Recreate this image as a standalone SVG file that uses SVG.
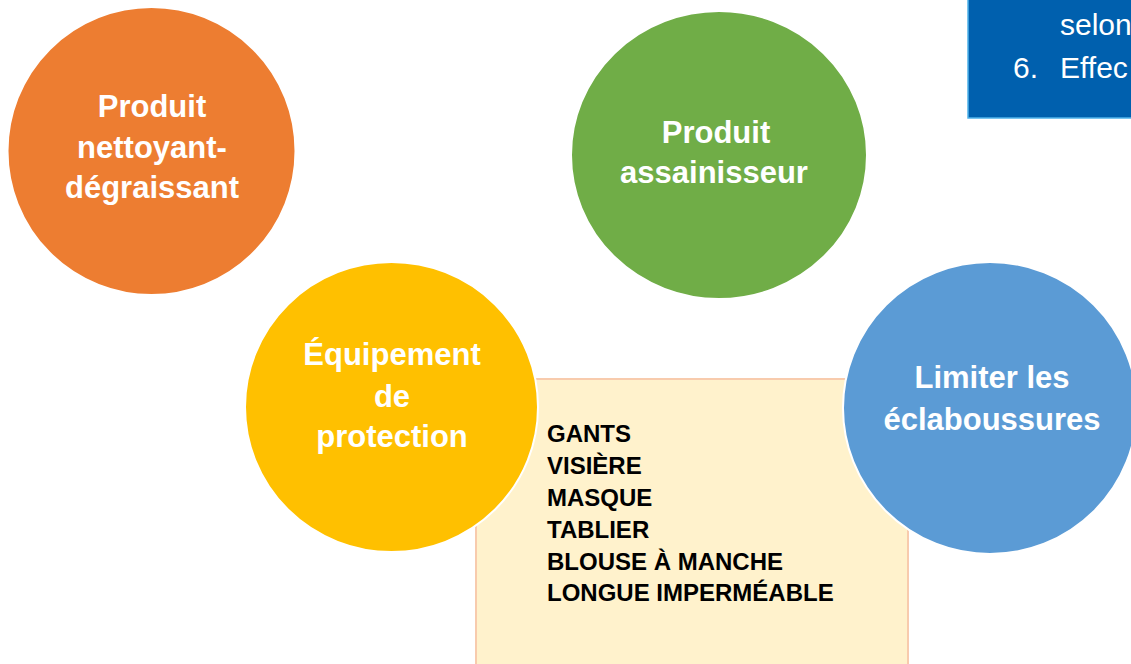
<svg xmlns="http://www.w3.org/2000/svg" width="1131" height="664" viewBox="0 0 1131 664">
<style>
.c{stroke:#fff;stroke-width:2}
.ct{font-family:"Liberation Sans",Arial,sans-serif;font-weight:bold;font-size:31px;fill:#fff;text-anchor:middle}
.bt{font-family:"Liberation Sans",Arial,sans-serif;font-weight:bold;font-size:24px;fill:#000}
.nt{font-family:"Liberation Sans",Arial,sans-serif;font-size:30px;fill:#fff}
</style>
<rect width="1131" height="664" fill="#fff"/>
<g id="note">
<rect x="968" y="-2" width="170" height="120" fill="#0060AE" stroke="#4FB3EA" stroke-width="1.5"/>
<text class="nt" x="1060" y="35">selon</text>
<text class="nt" x="1013" y="78">6.</text>
<text class="nt" x="1060" y="78">Effec</text>
</g>
<g id="box">
<rect x="476" y="379" width="432" height="290" fill="#FFF2CC" stroke="#F8CBAD" stroke-width="2"/>
<text class="bt" x="547" y="442">GANTS</text>
<text class="bt" x="547" y="474">VISIÈRE</text>
<text class="bt" x="547" y="506">MASQUE</text>
<text class="bt" x="547" y="538">TABLIER</text>
<text class="bt" x="547" y="570">BLOUSE À MANCHE</text>
<text class="bt" x="547" y="601">LONGUE IMPERMÉABLE</text>
</g>
<g id="orange">
<ellipse class="c" cx="151.5" cy="151" rx="144" ry="144" fill="#ED7D31"/>
<text class="ct" x="152" y="117">Produit</text>
<text class="ct" x="152" y="158">nettoyant-</text>
<text class="ct" x="152" y="198">dégraissant</text>
</g>
<g id="green">
<ellipse class="c" cx="719" cy="155" rx="148" ry="144" fill="#70AD47"/>
<text class="ct" x="716" y="143">Produit</text>
<text class="ct" x="714" y="183">assainisseur</text>
</g>
<g id="yellow">
<ellipse class="c" cx="391.5" cy="407" rx="146.5" ry="145" fill="#FFC000"/>
<text class="ct" x="392" y="365">Équipement</text>
<text class="ct" x="392" y="407">de</text>
<text class="ct" x="392" y="447">protection</text>
</g>
<g id="blue">
<ellipse class="c" cx="990" cy="408" rx="147" ry="146" fill="#5B9BD5"/>
<text class="ct" x="992" y="388">Limiter les</text>
<text class="ct" x="992" y="430">éclaboussures</text>
</g>
<g id="connectors"/>
</svg>
